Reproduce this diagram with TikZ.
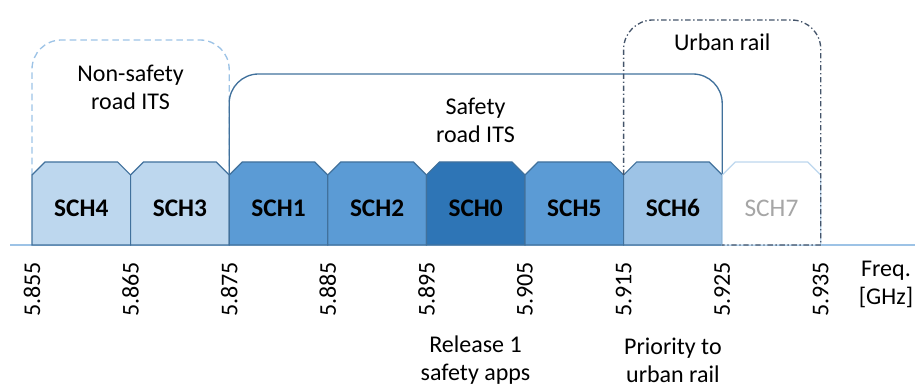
\documentclass[tikz,border=0pt]{standalone}
\usepackage{fontspec}
\setmainfont{Carlito}
\definecolor{bandline}{HTML}{41719C}
\definecolor{lightch}{HTML}{BDD7EE}
\definecolor{midch}{HTML}{5B9BD5}
\definecolor{darkch}{HTML}{2E75B6}
\definecolor{railch}{HTML}{9DC3E6}
\definecolor{railline}{HTML}{44546A}
\definecolor{axisline}{HTML}{9DC3E6}
\tikzset{
  chan/.style={draw=bandline, line width=0.9pt, line join=miter},
  chlabel/.style={font=\fontsize{19}{22}\selectfont\bfseries},
  txt/.style={font=\fontsize{18}{21}\selectfont, align=center},
  freq/.style={font=\fontsize{18}{21}\selectfont, rotate=90, anchor=east, inner sep=0pt},
}
\begin{document}
\begin{tikzpicture}[x=0.75pt,y=-0.75pt]
            \useasboundingbox (0,0) rectangle (915,388);

            % groups above the channels
            \draw[axisline, line width=1pt, dash pattern=on 5pt off 3pt, rounded corners=22pt]
                (32,175) -- (32,40) -- (229.2,40) -- (229.2,175);
            \draw[bandline, line width=1pt, rounded corners=22pt]
                (229.2,175) -- (229.2,74) -- (722.2,74) -- (722.2,175);
            \node (nonsafe) at (130.6,87) [txt] {Non-safety\\road ITS};
            \node (safe) at (475.5,120) [txt] {Safety\\road ITS};

            % axis
            \draw[axisline, line width=1pt] (10,245) -- (915,245);

            % channels
            \draw[chan, fill=lightch] (32,245) -- (32,175) -- (45,162) -- (117.6,162) -- (130.6,175) -- (130.6,245) -- cycle;
            \draw[chan, fill=lightch] (130.6,245) -- (130.6,175) -- (143.6,162) -- (216.2,162) -- (229.2,175) -- (229.2,245) -- cycle;
            \draw[chan, fill=midch] (229.2,245) -- (229.2,175) -- (242.2,162) -- (314.8,162) -- (327.8,175) -- (327.8,245) -- cycle;
            \draw[chan, fill=midch] (327.8,245) -- (327.8,175) -- (340.8,162) -- (413.4,162) -- (426.4,175) -- (426.4,245) -- cycle;
            \draw[chan, fill=darkch] (426.4,245) -- (426.4,175) -- (439.4,162) -- (512,162) -- (525,175) -- (525,245) -- cycle;
            \draw[chan, fill=midch] (525,245) -- (525,175) -- (538,162) -- (610.6,162) -- (623.6,175) -- (623.6,245) -- cycle;
            \draw[chan, fill=railch] (623.6,245) -- (623.6,175) -- (636.6,162) -- (709.2,162) -- (722.2,175) -- (722.2,245) -- cycle;
            \draw[chan, draw=lightch, fill=white] (722.2,245) -- (722.2,175) -- (735.2,162) -- (807.8,162) -- (820.8,175) -- (820.8,245) -- cycle;

            \node (sch4) at (81.3,208) [chlabel] {SCH4};
            \node (sch3) at (179.9,208) [chlabel] {SCH3};
            \node (sch1) at (278.5,208) [chlabel] {SCH1};
            \node (sch2) at (377.1,208) [chlabel] {SCH2};
            \node (sch0) at (475.7,208) [chlabel] {SCH0};
            \node (sch5) at (574.3,208) [chlabel] {SCH5};
            \node (sch6) at (672.9,208) [chlabel] {SCH6};
            \node (sch7) at (771.5,208) [chlabel, text=black!35, font=\fontsize{19}{22}\selectfont] {SCH7};

            % urban rail group
            \draw[railline, line width=1pt, dash pattern=on 4pt off 2pt on 1pt off 2pt]
                (623.6,175) [rounded corners=22pt] -- (623.6,20) -- (820.8,20) [sharp corners] -- (820.8,245) -- (722.2,245);
            \node (urban) at (722.2,42) [txt] {Urban rail};

            % frequency ticks
            \node (f1) at (32,262) [freq] {5.855};
            \node (f2) at (130.6,262) [freq] {5.865};
            \node (f3) at (229.2,262) [freq] {5.875};
            \node (f4) at (327.8,262) [freq] {5.885};
            \node (f5) at (426.4,262) [freq] {5.895};
            \node (f6) at (525,262) [freq] {5.905};
            \node (f7) at (623.6,262) [freq] {5.915};
            \node (f8) at (722.2,262) [freq] {5.925};
            \node (f9) at (820.8,262) [freq] {5.935};
            \node (unit) at (886,284) [txt] {Freq.\\{}[GHz]};

            \node (rel) at (475.5,360) [txt] {Release 1\\safety apps};
            \node (prio) at (672.9,360) [txt] {Priority to\\urban rail};
\end{tikzpicture}
\end{document}
